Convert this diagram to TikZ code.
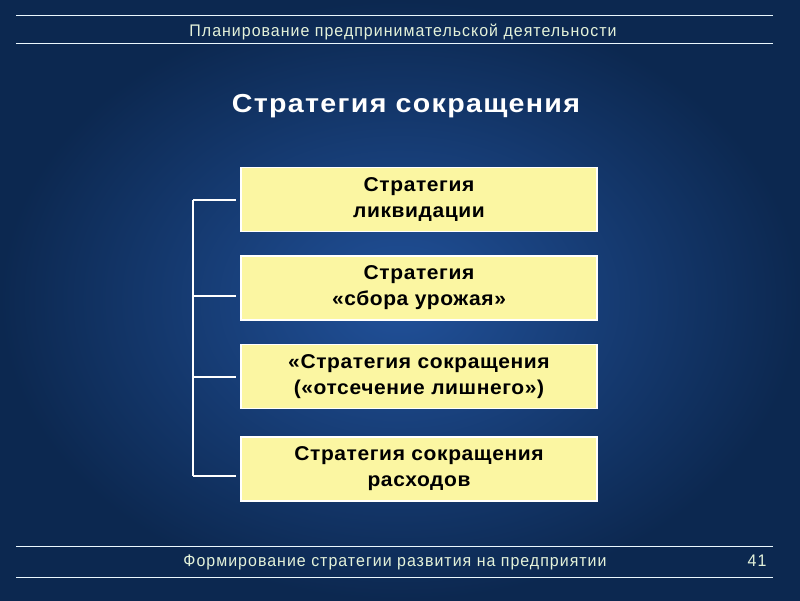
\documentclass[tikz,border=0pt]{standalone}
\usepackage{fontspec}
\setmainfont{Liberation Sans}
\newfontfamily\narrowfont[FakeStretch=0.95,LetterSpace=6]{Liberation Sans}
\newfontfamily\titlefont[FakeStretch=1.1,LetterSpace=5]{Liberation Sans}
\newfontfamily\boxfont[FakeStretch=1.05,LetterSpace=3]{Liberation Sans}
\definecolor{bgin}{HTML}{21519A}
\definecolor{bgout}{HTML}{0C2850}
\definecolor{boxfill}{HTML}{FBF6A2}
\definecolor{hdrtext}{HTML}{E4F2DA}
\tikzset{
  stratbox/.style={draw=white, line width=1.6pt, fill=boxfill, minimum width=356pt, minimum height=64pt, inner sep=0pt, align=center, font=\boxfont\fontsize{20}{26}\selectfont\bfseries, text=black},
  rule/.style={draw=white!92!cyan, line width=0.9pt},
  hdr/.style={font=\narrowfont\fontsize{16.8}{18}\selectfont, text=hdrtext},
  conn/.style={draw=white, line width=1.4pt}
}
\begin{document}
\begin{tikzpicture}[x=1pt,y=-1pt]
\useasboundingbox (0,0) rectangle (800,600);
\shade[inner color=bgin, outer color=bgout] (0,0) rectangle (800,600);
% header
\draw[rule] (16,15) -- (773,15);
\draw[rule] (16,43) -- (773,43);
\node[hdr] (hdr) at (403,32) {Планирование предпринимательской деятельности};
% title
\node[font=\titlefont\fontsize{26}{28}\selectfont\bfseries, text=white] (title) at (406,106) {Стратегия сокращения};
% boxes
\node[stratbox] (b1) at (419,199.5) {Стратегия\\ликвидации};
\node[stratbox] (b2) at (419,288) {Стратегия\\«сбора урожая»};
\node[stratbox] (b3) at (419,376.5) {«Стратегия сокращения\\(«отсечение лишнего»)};
\node[stratbox] (b4) at (419,469) {Стратегия сокращения\\расходов};
% connectors
\coordinate (c1) at (193,200);
\coordinate (c2) at (193,296);
\coordinate (c3) at (193,377);
\coordinate (c4) at (193,476);
\draw[conn] (c1) -- (c4);
\draw[conn] (c1) -- ([xshift=-4pt]b1.west |- c1);
\draw[conn] (c2) -- ([xshift=-4pt]b2.west |- c2);
\draw[conn] (c3) -- ([xshift=-4pt]b3.west |- c3);
\draw[conn] (c4) -- ([xshift=-4pt]b4.west |- c4);
% footer
\draw[rule] (16,546) -- (773,546);
\draw[rule] (16,577) -- (773,577);
\node[hdr] (ftr) at (395,562) {Формирование стратегии развития на предприятии};
\node[hdr] (pg) at (757,561) {41};
\end{tikzpicture}
\end{document}
